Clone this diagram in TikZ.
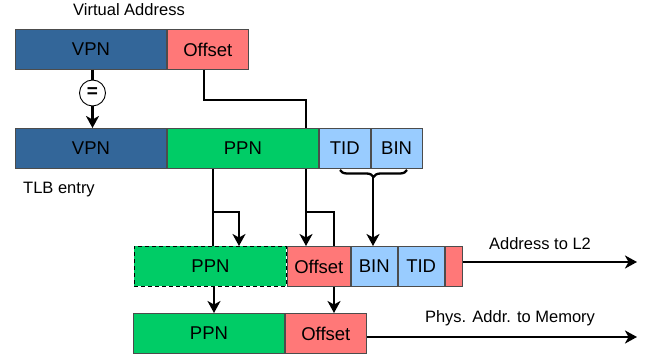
\documentclass[tikz,border=0pt]{standalone}
\usepackage{fontspec}
\setmainfont{Liberation Sans}
\usetikzlibrary{arrows.meta,decorations.pathreplacing}

\definecolor{vpnblue}{HTML}{336699}
\definecolor{offred}{HTML}{FF7878}
\definecolor{ppngreen}{HTML}{00CC66}
\definecolor{tagblue}{HTML}{99CCFF}

\tikzset{
  field/.style={draw=black!70, line width=0.9pt, minimum height=40pt, inner sep=0pt,
    anchor=north west, font=\fontsize{18.5}{20}\selectfont},
  vpnf/.style={field, fill=vpnblue},
  offf/.style={field, fill=offred},
  ppnf/.style={field, fill=ppngreen},
  tagf/.style={field, fill=tagblue},
  lbl/.style={font=\fontsize{16.5}{18}\selectfont},
  wire/.style={line width=2.3pt},
  arr/.style={wire, -{Stealth[length=12pt,width=13pt,inset=3.5pt]}}
}

\begin{document}
\begin{tikzpicture}[x=1pt,y=-1pt]
\useasboundingbox (0,0) rectangle (651,355);

% virtual address
\node[lbl] (va) at (129,10) {Virtual Address};
\node[vpnf, minimum width=151pt] (vpn) at (15,29) {VPN};
\node[offf, minimum width=81pt] (off) at (vpn.north east) {Offset};

% TLB entry
\node[vpnf, minimum width=151pt] (vpn2) at (15,128) {VPN};
\node[ppnf, minimum width=151pt] (ppn) at (vpn2.north east) {PPN};
\node[tagf, minimum width=51pt] (tid) at (ppn.north east) {TID};
\node[tagf, minimum width=51pt] (bin) at (tid.north east) {BIN};
\node[lbl] (tlb) at (59,190) {TLB entry};

% compare
\node[draw, circle, line width=0.9pt, minimum size=26pt, inner sep=0pt,
  font=\fontsize{19}{20}\selectfont\bfseries] (eq) at (92.5,93) {=};
\draw[wire] (eq |- vpn.south) -- (eq.north);
\draw[arr] (eq.south) -- (eq |- vpn2.north);

% offset into PPN
\coordinate (o1) at (204,100);
\coordinate (o2) at (306,100);
\draw[wire] (o1 |- off.south) -- (o1) -- (o2) -- (o2 |- ppn.north);

% address to L2
\node[ppnf, draw=black, dash pattern=on 4pt off 3pt, minimum width=152pt] (ppn3) at (134,246) {PPN};
\node[offf, minimum width=63pt] (off3) at (ppn3.north east) {Offset};
\node[tagf, minimum width=46pt] (bin3) at (off3.north east) {BIN};
\node[tagf, minimum width=46pt] (tid3) at (bin3.north east) {TID};
\node[offf, minimum width=17pt] (pad3) at (tid3.north east) {};

% physical address
\node[ppnf, minimum width=151pt] (ppn4) at (133,313) {PPN};
\node[offf, minimum width=81pt] (off4) at (ppn4.north east) {Offset};

% PPN / offset wiring
\coordinate (p1) at (213,212);
\coordinate (p2) at (239,212);
\coordinate (q1) at (306,212);
\coordinate (q2) at (334,212);
\draw[wire] (p1 |- ppn.south) -- (p1 |- ppn3.north);
\draw[arr] (p1) -- (p2) -- (p2 |- ppn3.north);
\draw[arr] (q1 |- ppn.south) -- (q1 |- off3.north);
\draw[wire] (q1) -- (q2) -- (q2 |- off3.north);

% TID/BIN brace
\coordinate (b1) at (340,170);
\coordinate (b2) at (407,170);
\coordinate (bt) at (373,177);
\draw[wire, decorate, decoration={brace, mirror, amplitude=7pt}] (b1) -- (b2);
\draw[arr] (bt) -- (bt |- bin3.north);

% down to memory address
\coordinate (d1) at (214,286);
\coordinate (d2) at (334,286);
\draw[arr] (d1 |- ppn3.south) -- (d1 |- ppn4.north);
\draw[arr] (d2 |- off3.south) -- (d2 |- off4.north);

% outputs
\coordinate (l2) at (637,262);
\coordinate (mem) at (637,337);
\draw[arr] (l2 -| pad3.east) -- (l2);
\draw[arr] (mem -| off4.east) -- (mem);
\node[lbl] (l2lbl) at (540,244) {Address to L2};
\node[lbl] (memlbl) at (510,318) {Phys. Addr. to Memory};
\end{tikzpicture}
\end{document}
